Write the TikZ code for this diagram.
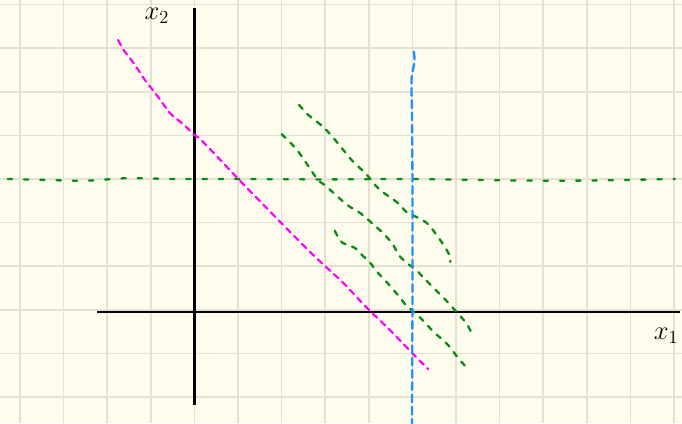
\documentclass[tikz,border=0pt]{standalone}
\definecolor{paper}{RGB}{254,252,236}
\definecolor{gridline}{RGB}{228,225,210}
\definecolor{penpink}{RGB}{255,0,255}
\definecolor{penblue}{RGB}{30,144,255}
\definecolor{pengreen}{RGB}{8,140,20}
\tikzset{
  axisline/.style={line width=1.8pt, black},
  pinkpen/.style={penpink, line width=1.4pt, line cap=round, dash pattern=on 4pt off 3.2pt},
  bluepen/.style={penblue, line width=1.5pt, line cap=round, dash pattern=on 5pt off 3pt},
  greenpen/.style={pengreen, line width=1.5pt, line cap=round, dash pattern=on 3.5pt off 4.5pt},
  levelpen/.style={pengreen, line width=1.5pt, line cap=round, dash pattern=on 2.8pt off 7.8pt},
  handlabel/.style={font=\LARGE, inner sep=1pt}
}
\begin{document}
\begin{tikzpicture}[x=1cm, y=1cm]
    \useasboundingbox (-4.459,-2.597) rectangle (11.183,7.105);
    \fill[paper] (-4.459,-2.597) rectangle (11.183,7.105);
    \foreach \gx in {-4,...,11}
      \draw[gridline, line width=1pt] (\gx,-2.597) -- (\gx,7.105);
    \foreach \gy in {-2,...,7}
      \draw[gridline, line width=1pt] (-4.459,\gy) -- (11.183,\gy);
    \draw[axisline] (-2.23,-0.05) -- (11.14,-0.05);
    \draw[axisline] (0.01,6.92) -- (0.01,-2.18);
    \node[handlabel] (labxtwo) at (-0.86,6.74) {$x_2$};
    \node[handlabel] (labxone) at (10.82,-0.6) {$x_1$};
    \draw[levelpen] plot[smooth] coordinates {(-4.28,3.0) (-3.5,2.98) (-2.5,2.96) (-1.5,3.02)
      (-0.5,3.0) (1,3.0) (3,2.99) (5,3.0) (7,2.97) (8.5,2.96) (10,2.98) (11.02,3.0)};
    \draw[pinkpen] plot[smooth] coordinates {(-1.75,6.19) (-1.62,5.95) (-1.41,5.68) (-1.12,5.25)
      (-0.83,4.88) (-0.55,4.5) (-0.26,4.26) (0.0,4.01) (0.2,3.85) (1.2,2.8) (2.65,1.33)
      (3.41,0.62) (3.96,0.04) (4.5,-0.48) (5.0,-1.0) (5.36,-1.36)};
    \draw[greenpen] plot[smooth] coordinates {(2.40,4.70) (2.61,4.47) (2.90,4.24) (3.13,4.01)
      (3.38,3.71) (3.61,3.43) (3.96,3.09) (4.23,2.77) (4.64,2.47) (4.87,2.24) (5.13,2.11)
      (5.33,1.99) (5.47,1.83) (5.70,1.51) (5.84,1.27) (5.87,1.10)};
    \draw[greenpen] plot[smooth] coordinates {(2.0,4.03) (2.28,3.75) (2.44,3.55) (2.61,3.30)
      (2.83,2.98) (2.99,2.86) (3.29,2.59) (3.54,2.38) (3.80,2.22) (4.07,1.99) (4.30,1.78)
      (4.53,1.53) (4.71,1.23) (4.90,1.05) (5.08,0.92) (5.26,0.73) (5.47,0.52) (5.72,0.27)
      (5.93,0.04) (6.23,-0.30) (6.37,-0.56)};
    \draw[greenpen] plot[smooth] coordinates {(3.22,1.81) (3.38,1.55) (3.68,1.42) (3.84,1.26)
      (4.03,1.08) (4.17,0.89) (4.37,0.68) (4.51,0.52) (4.69,0.31) (4.83,0.13) (5.03,-0.05)
      (5.26,-0.26) (5.47,-0.49) (5.82,-0.81) (6.05,-1.11) (6.23,-1.31)};
    \draw[bluepen] plot[smooth] coordinates {(5.03,5.92) (5.05,5.7) (4.98,5.3) (4.99,4.5)
      (5.0,3.0) (5.0,0.0) (4.99,-2.6)};
  \end{tikzpicture}
\end{document}
